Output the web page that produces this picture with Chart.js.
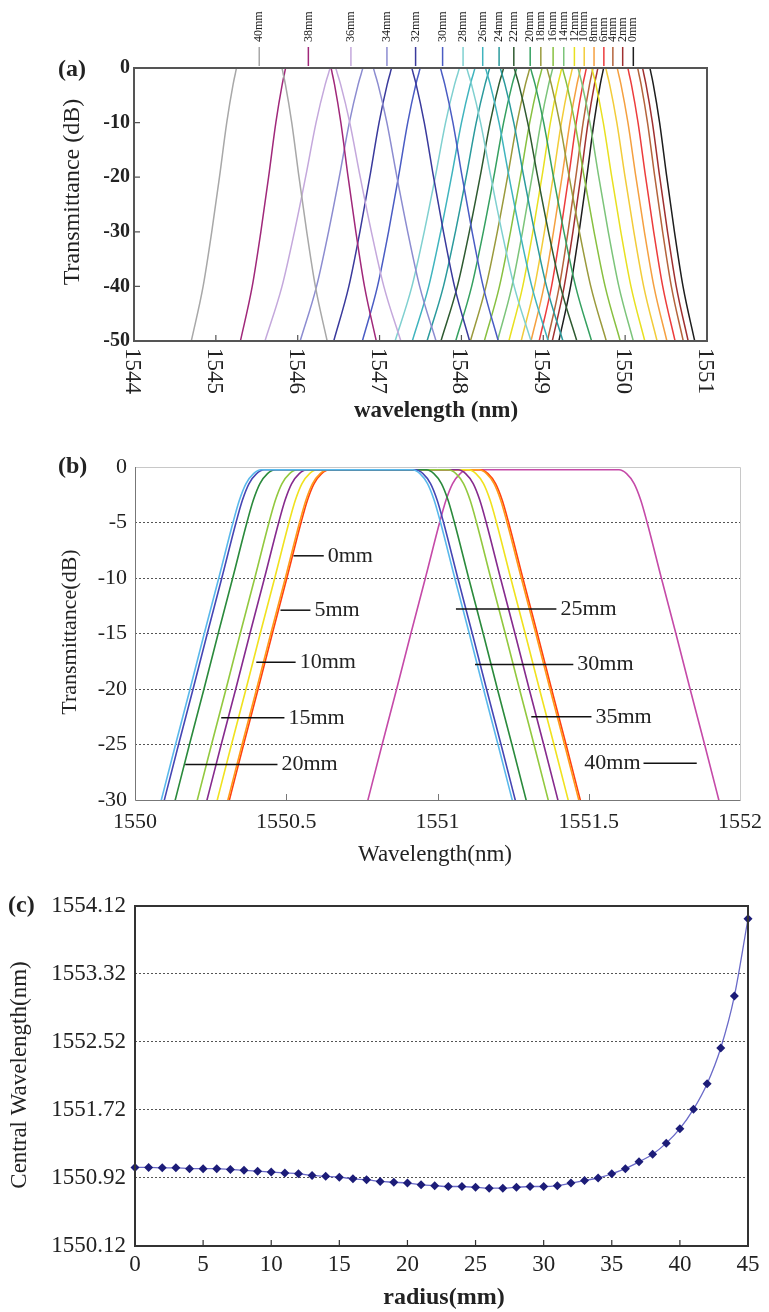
<!DOCTYPE html>
<html>
<head>
<meta charset="utf-8">
<title>Transmission spectra and central wavelength versus radius</title>
<script src="https://cdn.jsdelivr.net/npm/chart.js@4.4.1/dist/chart.umd.min.js"></script>
<style>
  html, body { margin: 0; padding: 0; background: #fff; }
  #page { position: relative; width: 769px; height: 1312px; }
  canvas { position: absolute; left: 0; }
</style>
</head>
<body>
<div id="page">
  <canvas id="chartA" width="769" height="430" style="top:0px"></canvas>
  <canvas id="chartB" width="769" height="440" style="top:430px"></canvas>
  <canvas id="chartC" width="769" height="442" style="top:870px"></canvas>
</div>
<script>
const SERIF = '"Liberation Serif", "Times New Roman", serif';

// ---- (a) spectra for radius 40mm .. 0mm ----
const radiiA = [40, 38, 36, 34, 32, 30, 28, 26, 24, 22, 20, 18, 16, 14, 12, 10, 8, 6, 4, 2, 0];
const centreA = [1545.53, 1546.13, 1546.43, 1546.86, 1547.27, 1547.62, 1548.02, 1548.23, 1548.41, 1548.58,
                 1548.76, 1548.94, 1549.11, 1549.27, 1549.41, 1549.56, 1549.68, 1549.78, 1549.88, 1549.94, 1550.02];
// half width of the flat top (nm)
const flatHalfA = [0.275, 0.275, 0.03, 0.06, 0.12, 0.12, 0.04, 0.06, 0.06, 0.06,
                   0.08, 0.10, 0.12, 0.15, 0.18, 0.20, 0.22, 0.25, 0.27, 0.27, 0.28];
// where each radius marker sits above the frame (nm)
const markA = [1545.53, 1546.13, 1546.65, 1547.09, 1547.44, 1547.77, 1548.02, 1548.26, 1548.46, 1548.64,
               1548.84, 1548.97, 1549.12, 1549.25, 1549.38, 1549.50, 1549.62, 1549.74, 1549.85, 1549.97, 1550.10];
const coloursA = ['#a8a8a8', '#a0287a', '#c4a8dc', '#8c8cd0', '#3a3a9c', '#4a5cc4', '#7fd0d0', '#3fb4be', '#2a9a9c', '#2e5a30',
                  '#35a060', '#9a9a3c', '#88c040', '#7cc47a', '#e8e020', '#f2cc3a', '#f5a040', '#ec3c3c', '#b4643c', '#a03030', '#1e1e1e'];
// filter skirt: level (dB) and how far it has moved from the flat top towards the -50 dB half width
const edgeDbA = [0, -1, -3, -10, -20, -30, -40, -50];
const edgeFracA = [0, 0.03, 0.08, 0.22, 0.38, 0.55, 0.74, 1];
const skirtHalfA = 0.83;
const xTicksA = [1544, 1545, 1546, 1547, 1548, 1549, 1550, 1551];
const yTicksA = [-50, -40, -30, -20, -10, 0];

// ---- (b) measured spectra, 0mm .. 40mm ----
const radiiB = [25, 30, 20, 15, 35, 10, 5, 0, 40];
const centreB = [1550.667, 1550.677, 1550.713, 1550.786, 1550.818, 1550.852, 1550.887, 1550.892, 1551.35];
const coloursB = ['#5ab9ec', '#4646b4', '#2a8a3c', '#93c83e', '#862a8e', '#f0e21e', '#ff9a1a', '#ff4010', '#c54aa8'];
const edgeDbB = [-0.25, -0.25, -0.6, -1.5, -3, -5, -10, -15, -20, -25, -30, -33];
const edgeHalfB = [0.2, 0.25, 0.275, 0.30, 0.322, 0.343, 0.39, 0.438, 0.485, 0.533, 0.58, 0.608];
const xTicksB = [1550, 1550.5, 1551, 1551.5, 1552];
const yTicksB = [-30, -25, -20, -15, -10, -5, 0];
const calloutTextB = ['0mm', '5mm', '10mm', '15mm', '20mm', '25mm', '30mm', '35mm', '40mm'];
const calloutDbB = [-8.0, -12.9, -17.6, -22.6, -26.8, -12.8, -17.8, -22.5, -26.7];
const calloutTipB = [1550.524, 1550.481, 1550.401, 1550.285, 1550.166, 1551.061, 1551.124, 1551.310, 1551.857];
const calloutEndB = [1550.624, 1550.580, 1550.531, 1550.494, 1550.471, 1551.393, 1551.449, 1551.509, 1551.681];

// ---- (c) central wavelength versus radius ----
const radiusC = [0, 1, 2, 3, 4, 5, 6, 7, 8, 9, 10, 11, 12, 13, 14, 15, 16, 17, 18, 19, 20, 21, 22,
                 23, 24, 25, 26, 27, 28, 29, 30, 31, 32, 33, 34, 35, 36, 37, 38, 39, 40, 41, 42, 43, 44, 45];
const centralC = [1551.045, 1551.045, 1551.04, 1551.04, 1551.03, 1551.03, 1551.03, 1551.02, 1551.01, 1551.00,
                  1550.99, 1550.98, 1550.97, 1550.95, 1550.94, 1550.93, 1550.91, 1550.90, 1550.88, 1550.87,
                  1550.86, 1550.84, 1550.83, 1550.82, 1550.82, 1550.81, 1550.80, 1550.80, 1550.81, 1550.82,
                  1550.82, 1550.83, 1550.86, 1550.89, 1550.92, 1550.97, 1551.03, 1551.11, 1551.20, 1551.33,
                  1551.50, 1551.73, 1552.03, 1552.45, 1553.06, 1553.97];
const xTicksC = [0, 5, 10, 15, 20, 25, 30, 35, 40, 45];
const yTicksC = [1550.12, 1550.92, 1551.72, 1552.52, 1553.32, 1554.12];

Chart.defaults.font.family = SERIF;
Chart.defaults.color = '#222';

function spectrumA(i) {
  const c = centreA[i], h = flatHalfA[i];
  const pts = [];
  for (let k = edgeDbA.length - 1; k >= 0; k--) {
    pts.push({ x: c - h - (skirtHalfA - h) * edgeFracA[k], y: edgeDbA[k] });
  }
  for (let k = 0; k < edgeDbA.length; k++) {
    pts.push({ x: c + h + (skirtHalfA - h) * edgeFracA[k], y: edgeDbA[k] });
  }
  return pts;
}

function spectrumB(i) {
  const c = centreB[i];
  const pts = [];
  for (let k = edgeDbB.length - 1; k >= 0; k--) pts.push({ x: c - edgeHalfB[k], y: edgeDbB[k] });
  for (let k = 0; k < edgeDbB.length; k++) pts.push({ x: c + edgeHalfB[k], y: edgeDbB[k] });
  return pts;
}

// pin an axis to a fixed thickness so the plot frame lands where we want it
function fixedBox(size) {
  return scale => {
    if (scale.isHorizontal()) scale.height = size; else scale.width = size;
    scale.paddingLeft = scale.paddingRight = scale.paddingTop = scale.paddingBottom = 0;
  };
}
function useTicks(list) {
  return scale => { scale.ticks = list.map(v => ({ value: v })); };
}
function text(ctx, str, x, y, font, align, angle) {
  ctx.save();
  ctx.translate(x, y);
  if (angle) ctx.rotate(angle);
  ctx.font = font;
  ctx.textAlign = align || 'center';
  ctx.textBaseline = 'middle';
  ctx.fillStyle = '#222';
  ctx.fillText(str, 0, 0);
  ctx.restore();
}

const baseOptions = {
  responsive: false,
  animation: false,
  events: [],
  plugins: { legend: { display: false }, tooltip: { enabled: false } }
};

// ---------- (a) ----------
const decorA = {
  id: 'decorA',
  afterDraw(chart) {
    const { ctx, chartArea: area, scales: { x, y } } = chart;
    ctx.save();
    ctx.strokeStyle = '#555';
    ctx.lineWidth = 2;
    ctx.strokeRect(area.left, area.top, area.width, area.height);
    ctx.lineWidth = 1.2;
    ctx.beginPath();
    xTicksA.slice(1, -1).forEach(v => {
      const px = x.getPixelForValue(v);
      ctx.moveTo(px, area.bottom); ctx.lineTo(px, area.bottom - 6);
    });
    yTicksA.slice(1, -1).forEach(v => {
      const py = y.getPixelForValue(v);
      ctx.moveTo(area.left, py); ctx.lineTo(area.left + 6, py);
    });
    ctx.stroke();
    // wavelength labels, turned to read downwards
    xTicksA.forEach(v => {
      text(ctx, String(v), x.getPixelForValue(v) - 2, area.bottom + 7, `23px ${SERIF}`, 'left', Math.PI / 2);
    });
    // radius markers over the frame
    radiiA.forEach((r, i) => {
      const px = x.getPixelForValue(markA[i]);
      ctx.strokeStyle = coloursA[i];
      ctx.lineWidth = 1.5;
      ctx.beginPath();
      ctx.moveTo(px, area.top - 21); ctx.lineTo(px, area.top - 2);
      ctx.stroke();
      text(ctx, r + 'mm', px, area.top - 26, `12px ${SERIF}`, 'left', -Math.PI / 2);
    });
    text(ctx, '(a)', 58, 70, `bold 24px ${SERIF}`, 'left');
    text(ctx, 'wavelength (nm)', 436, 411, `bold 23px ${SERIF}`);
    text(ctx, 'Transmittance (dB)', 73, 192, `24px ${SERIF}`, 'center', -Math.PI / 2);
    ctx.restore();
  }
};

new Chart(document.getElementById('chartA'), {
  type: 'line',
  data: {
    datasets: radiiA.map((r, i) => ({
      label: r + 'mm',
      data: spectrumA(i),
      borderColor: coloursA[i],
      borderWidth: 1.5,
      pointRadius: 0,
      fill: false,
      cubicInterpolationMode: 'monotone'
    }))
  },
  options: {
    ...baseOptions,
    layout: { padding: { left: 0, top: 68, right: 62, bottom: 0 } },
    scales: {
      x: {
        type: 'linear', min: 1544, max: 1551,
        afterFit: fixedBox(89),
        afterBuildTicks: useTicks(xTicksA),
        ticks: { display: false },
        grid: { display: false },
        border: { display: false }
      },
      y: {
        type: 'linear', min: -50, max: 0,
        afterFit: fixedBox(134),
        afterBuildTicks: useTicks(yTicksA),
        ticks: { font: { size: 20, weight: 'bold' }, padding: 4, color: '#222' },
        grid: { display: false, drawTicks: false },
        border: { display: false }
      }
    }
  },
  plugins: [decorA]
});

// ---------- (b) ----------
const decorB = {
  id: 'decorB',
  afterDraw(chart) {
    const { ctx, chartArea: area, scales: { x, y } } = chart;
    ctx.save();
    ctx.lineWidth = 1;
    ctx.strokeStyle = '#c8c8c8';
    ctx.beginPath();
    ctx.moveTo(area.left, area.top + 0.5); ctx.lineTo(area.right + 0.5, area.top + 0.5);
    ctx.lineTo(area.right + 0.5, area.bottom);
    ctx.stroke();
    ctx.strokeStyle = '#777';
    ctx.beginPath();
    ctx.moveTo(area.left + 0.5, area.top); ctx.lineTo(area.left + 0.5, area.bottom + 0.5);
    ctx.lineTo(area.right + 0.5, area.bottom + 0.5);
    xTicksB.slice(1, -1).forEach(v => {
      const px = Math.round(x.getPixelForValue(v)) + 0.5;
      ctx.moveTo(px, area.bottom); ctx.lineTo(px, area.bottom - 6);
    });
    ctx.stroke();
    // callouts naming each radius
    ctx.strokeStyle = '#111';
    ctx.lineWidth = 1.5;
    calloutTextB.forEach((t, i) => {
      const py = y.getPixelForValue(calloutDbB[i]);
      const x0 = x.getPixelForValue(calloutTipB[i]);
      const x1 = x.getPixelForValue(calloutEndB[i]);
      ctx.beginPath(); ctx.moveTo(x0, py); ctx.lineTo(x1, py); ctx.stroke();
      if (x1 > x0) text(ctx, t, x1 + 4, py, `22px ${SERIF}`, 'left');
      else text(ctx, t, x1 - 3, py, `22px ${SERIF}`, 'right');
    });
    text(ctx, '(b)', 58, 37, `bold 24px ${SERIF}`, 'left');
    text(ctx, 'Wavelength(nm)', 435, 425, `23px ${SERIF}`);
    text(ctx, 'Transmittance(dB)', 70, 202, `22px ${SERIF}`, 'center', -Math.PI / 2);
    ctx.restore();
  }
};

new Chart(document.getElementById('chartB'), {
  type: 'line',
  data: {
    datasets: radiiB.map((r, i) => ({
      label: r + 'mm',
      data: spectrumB(i),
      borderColor: coloursB[i],
      borderWidth: 1.6,
      pointRadius: 0,
      fill: false,
      cubicInterpolationMode: 'monotone'
    }))
  },
  options: {
    ...baseOptions,
    layout: { padding: { left: 0, top: 37, right: 29, bottom: 0 } },
    scales: {
      x: {
        type: 'linear', min: 1550, max: 1552,
        afterFit: fixedBox(70),
        afterBuildTicks: useTicks(xTicksB),
        ticks: { font: { size: 22 }, padding: 9, autoSkip: false, maxRotation: 0, callback: v => String(v) },
        grid: { display: false, drawTicks: false },
        border: { display: false }
      },
      y: {
        type: 'linear', min: -30, max: 0,
        afterFit: fixedBox(135),
        afterBuildTicks: useTicks(yTicksB),
        ticks: { font: { size: 22 }, padding: 8, callback: v => String(v) },
        grid: {
          drawTicks: false,
          lineWidth: 1,
          color: c => (c.index === 0 || c.index === yTicksB.length - 1) ? 'rgba(0,0,0,0)' : '#555'
        },
        border: { display: false, dash: [2, 2] }
      }
    }
  },
  plugins: [decorB]
});

// ---------- (c) ----------
const decorC = {
  id: 'decorC',
  afterDraw(chart) {
    const { ctx, chartArea: area, scales: { x } } = chart;
    ctx.save();
    ctx.strokeStyle = '#333';
    ctx.lineWidth = 2;
    ctx.strokeRect(area.left, area.top, area.width, area.height);
    ctx.lineWidth = 1.2;
    ctx.beginPath();
    xTicksC.slice(1, -1).forEach(v => {
      const px = x.getPixelForValue(v);
      ctx.moveTo(px, area.bottom); ctx.lineTo(px, area.bottom - 6);
    });
    ctx.stroke();
    text(ctx, '(c)', 8, 36, `bold 24px ${SERIF}`, 'left');
    text(ctx, 'radius(mm)', 444, 428, `bold 24px ${SERIF}`);
    text(ctx, 'Central Wavelength(nm)', 20, 205, `23px ${SERIF}`, 'center', -Math.PI / 2);
    ctx.restore();
  }
};

new Chart(document.getElementById('chartC'), {
  type: 'line',
  data: {
    datasets: [{
      label: 'Central wavelength',
      data: radiusC.map((r, i) => ({ x: r, y: centralC[i] })),
      borderColor: '#6a6ac8',
      borderWidth: 1.3,
      pointStyle: 'rectRot',
      pointRadius: 4.5,
      pointBackgroundColor: '#1c1c78',
      pointBorderColor: '#1c1c78',
      pointBorderWidth: 0,
      fill: false,
      clip: false,
      cubicInterpolationMode: 'monotone'
    }]
  },
  options: {
    ...baseOptions,
    layout: { padding: { left: 0, top: 36, right: 21, bottom: 0 } },
    scales: {
      x: {
        type: 'linear', min: 0, max: 45,
        afterFit: fixedBox(66),
        afterBuildTicks: useTicks(xTicksC),
        ticks: { font: { size: 23 }, padding: 5, autoSkip: false, maxRotation: 0 },
        grid: { display: false, drawTicks: false },
        border: { display: false }
      },
      y: {
        type: 'linear', min: 1550.12, max: 1554.12,
        afterFit: fixedBox(135),
        afterBuildTicks: useTicks(yTicksC),
        ticks: { font: { size: 23 }, padding: 9, callback: v => v.toFixed(2) },
        grid: {
          drawTicks: false,
          lineWidth: 1,
          color: c => (c.index === 0 || c.index === yTicksC.length - 1) ? 'rgba(0,0,0,0)' : '#555'
        },
        border: { display: false, dash: [2, 2] }
      }
    }
  },
  plugins: [decorC]
});
</script>
</body>
</html>
